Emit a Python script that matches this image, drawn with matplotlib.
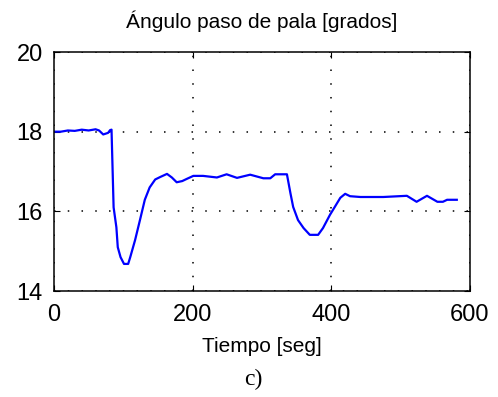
import matplotlib
matplotlib.use("Agg")
import matplotlib.pyplot as plt

# pitch angle trace
tiempo = [0, 10, 20, 30, 40, 50, 60, 65, 71, 78, 81, 83, 84, 86, 90, 92, 96,
          101, 107, 110, 117, 124, 131, 138, 146, 153, 163, 170, 177, 185,
          191, 201, 215, 235, 249, 264, 283, 302, 312, 319, 336, 341, 345,
          352, 360, 369, 381, 388, 398, 405, 413, 420, 427, 442, 475, 509,
          523, 538, 553, 561, 567, 581]
angulo = [18.0, 18.0, 18.03, 18.02, 18.05, 18.03, 18.06, 18.03, 17.93, 17.97,
          18.04, 18.05, 17.4, 16.1, 15.6, 15.1, 14.85, 14.68, 14.68, 14.85,
          15.28, 15.78, 16.29, 16.6, 16.8, 16.86, 16.94, 16.85, 16.73, 16.76,
          16.81, 16.89, 16.89, 16.85, 16.93, 16.84, 16.92, 16.83, 16.83, 16.93,
          16.93, 16.46, 16.11, 15.78, 15.58, 15.41, 15.41, 15.58, 15.91, 16.11,
          16.34, 16.44, 16.38, 16.36, 16.36, 16.39, 16.24, 16.39, 16.24, 16.24,
          16.29, 16.29]

xticks = [0, 200, 400, 600]
yticks = [14, 16, 18, 20]

plt.rcParams['font.family'] = ['Liberation Sans', 'DejaVu Sans']

fig = plt.figure(figsize=(4.98, 3.97), dpi=100)
ax = fig.add_axes([0.1084, 0.267, 0.8353, 0.602])

ax.plot(tiempo, angulo, color="#0000ff", lw=1.6)

ax.set_xlim(0, 600)
ax.set_ylim(14, 20)
ax.set_xticks(xticks)
ax.set_yticks(yticks)
ax.tick_params(direction="in", length=4, width=0.8, top=True, right=True,
               labelsize=17)
ax.tick_params(axis="x", pad=9)
ax.tick_params(axis="y", pad=8)
for s in ax.spines.values():
    s.set_linewidth(1.1)

ax.grid(True, color="black", linestyle=(0, (1, 8)), linewidth=1.1)

ax.set_title("Ángulo paso de pala [grados]", fontsize=15, pad=17)
ax.set_xlabel("Tiempo [seg]", fontsize=15, labelpad=8)

fig.text(0.508, 0.043, "c)", fontsize=17, family="Liberation Serif",
         ha="center", va="center")

fig.savefig("out.png", dpi=100)
